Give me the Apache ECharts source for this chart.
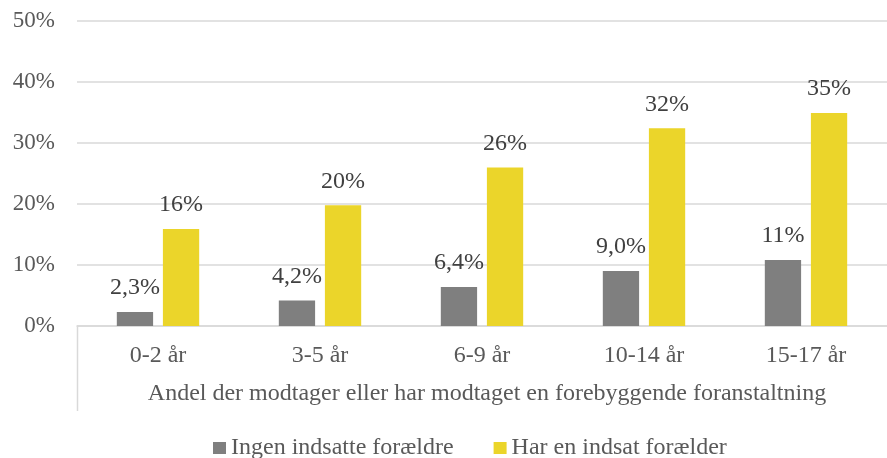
<!DOCTYPE html>
<html>
<head>
<meta charset="utf-8">
<script src="https://cdn.jsdelivr.net/npm/echarts@6/dist/echarts.min.js"></script>
<style>
  html, body { margin: 0; padding: 0; background: #fff; }
  #chart { width: 887px; height: 458px; }
</style>
</head>
<body>
<div id="chart"></div>
<script>
// aldersgrupper
const categories = ["0-2 år", "3-5 år", "6-9 år", "10-14 år", "15-17 år"];
// andel i procent
const ingenIndsatte = [2.3, 4.2, 6.4, 9.0, 10.8];
const harIndsat = [15.9, 19.8, 26.0, 32.4, 34.9];
const labelsIngen = ["2,3%", "4,2%", "6,4%", "9,0%", "11%"];
const labelsHar = ["16%", "20%", "26%", "32%", "35%"];
const seriesNames = ["Ingen indsatte forældre", "Har en indsat forælder"];
const axisName = "Andel der modtager eller har modtaget en forebyggende foranstaltning";

const FONT = "'Liberation Serif', 'Times New Roman', serif";
const FS = 24;
const chart = echarts.init(document.getElementById("chart"));

const option = {
  animation: false,
  textStyle: { fontFamily: FONT },
  grid: { left: 77, right: -8, top: 21, bottom: 132 },
  legend: {
    top: 431,
    left: 208,
    itemWidth: 13,
    itemHeight: 12,
    itemGap: 40,
    icon: "rect",
    textStyle: { fontFamily: FONT, fontSize: FS, color: "#595959" },
    data: seriesNames
  },
  xAxis: {
    type: "category",
    data: categories,
    axisLine: { lineStyle: { color: "#d9d9d9", width: 1.5 } },
    axisTick: { show: false },
    axisLabel: { fontFamily: FONT, fontSize: FS, color: "#595959", margin: 18 },
    name: axisName,
    nameLocation: "middle",
    nameGap: 56,
    nameTextStyle: { fontFamily: FONT, fontSize: FS, color: "#595959", padding: [0, 0, 0, 10] }
  },
  yAxis: {
    type: "value",
    min: 0,
    max: 50,
    interval: 10,
    axisLine: { show: false },
    axisTick: { show: false },
    splitLine: { lineStyle: { color: "#d9d9d9", width: 1.5 } },
    axisLabel: {
      fontFamily: FONT, fontSize: 23, color: "#595959", margin: 22,
      formatter: v => v + "%"
    }
  },
  series: [
    {
      name: seriesNames[0],
      type: "bar",
      data: ingenIndsatte,
      barWidth: "22.4%",
      barGap: "27%",
      itemStyle: { color: "#7f7f7f" },
      label: {
        show: true, position: "top", distance: 12,
        fontFamily: FONT, fontSize: FS, color: "#404040",
        formatter: p => labelsIngen[p.dataIndex]
      }
    },
    {
      name: seriesNames[1],
      type: "bar",
      data: harIndsat,
      barWidth: "22.4%",
      itemStyle: { color: "#ebd52a" },
      label: {
        show: true, position: "top", distance: 12,
        fontFamily: FONT, fontSize: FS, color: "#404040",
        formatter: p => labelsHar[p.dataIndex]
      }
    }
  ],
  graphic: [
    {
      type: "line",
      shape: { x1: 77.5, y1: 326, x2: 77.5, y2: 411 },
      style: { stroke: "#d9d9d9", lineWidth: 1.5 }
    }
  ]
};

chart.setOption(option);
</script>
</body>
</html>
